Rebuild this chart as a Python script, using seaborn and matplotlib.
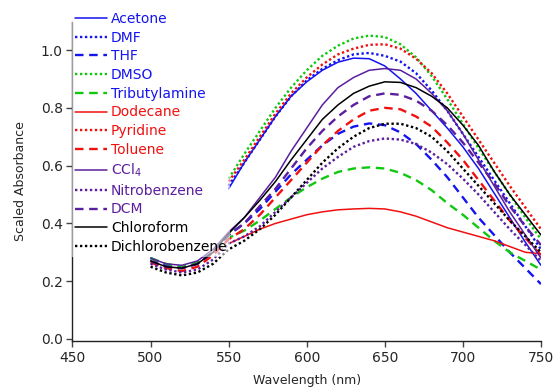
import matplotlib
matplotlib.use("Agg")
import matplotlib.pyplot as plt
import seaborn as sns

# ---- data ----
wl_full = [500, 510, 520, 530, 540, 550, 560, 570, 580, 590, 600, 610, 620,
           630, 640, 650, 660, 670, 680, 690, 700, 710, 720, 730, 740, 750]
wl_short = [550, 560, 570, 580, 590, 600, 610, 620, 630, 640, 650, 660, 670,
            680, 690, 700, 710, 720, 730, 740, 750]

acetone = [.52, .61, .69, .77, .84, .89, .93, .958, .972, .97, .945, .90, .85,
           .79, .73, .665, .59, .505, .42, .335, .255]
dmf = [.53, .61, .69, .77, .84, .895, .935, .965, .985, .99, .98, .96, .92,
       .86, .79, .71, .63, .55, .47, .39, .31]
thf = [.28, .255, .245, .26, .30, .36, .40, .45, .51, .57, .62, .67, .71,
       .735, .746, .74, .715, .675, .62, .56, .49, .42, .36, .30, .245, .19]
dmso = [.555, .64, .72, .80, .87, .93, .98, 1.015, 1.04, 1.05, 1.045, 1.02, .975,
        .91, .83, .745, .66, .58, .50, .42, .345]
tributylamine = [.28, .26, .25, .265, .30, .35, .375, .41, .45, .49, .525, .555, .578,
                 .59, .594, .59, .575, .55, .515, .47, .43, .385, .34, .30, .27, .24]
dodecane = [.33, .355, .38, .40, .415, .43, .44, .447, .45, .452, .45, .44, .425,
            .405, .385, .37, .355, .34, .32, .30, .295]
pyridine = [.545, .62, .70, .78, .85, .905, .95, .985, 1.005, 1.018, 1.02, 1.005, .97,
            .92, .85, .77, .69, .61, .53, .455, .38]
toluene = [.265, .245, .235, .25, .29, .345, .38, .43, .49, .55, .61, .67, .72,
           .76, .79, .80, .795, .77, .735, .68, .62, .55, .48, .41, .35, .29]
ccl4 = [.28, .26, .255, .27, .31, .37, .42, .49, .56, .65, .73, .81, .87,
        .905, .93, .936, .93, .90, .85, .79, .71, .62, .53, .44, .36, .28]
nitrobenzene = [.26, .24, .23, .24, .275, .33, .355, .39, .44, .49, .54, .59, .63,
                .665, .685, .694, .69, .675, .645, .605, .555, .50, .44, .38, .325, .27]
dcm = [.27, .25, .245, .26, .30, .36, .40, .46, .52, .59, .66, .72, .77,
       .81, .84, .85, .845, .825, .79, .74, .68, .61, .54, .46, .39, .325]
chloroform = [.27, .25, .245, .26, .30, .365, .42, .48, .545, .62, .69, .76, .81,
              .85, .875, .89, .888, .87, .84, .80, .74, .67, .58, .50, .43, .36]
dichlorobenzene = [.25, .23, .22, .23, .26, .31, .34, .38, .43, .49, .55, .61, .66,
                   .70, .73, .745, .745, .73, .70, .65, .59, .53, .47, .41, .355, .30]

labels = ["Acetone", "DMF", "THF", "DMSO", "Tributylamine", "Dodecane", "Pyridine",
          "Toluene", "CCl$_4$", "Nitrobenzene", "DCM", "Chloroform", "Dichlorobenzene"]

# ---- style ----
BLUE = "#1414f0"
GREEN = "#10c810"
RED = "#f01010"
PURPLE = "#5a1e9e"
BLACK = "#000000"
SOLID = "-"
DOT = (0, (1, 1.1))
DASH = (0, (3.6, 2.4))

series = [
    (wl_short, acetone, BLUE, SOLID, BLUE),
    (wl_short, dmf, BLUE, DOT, BLUE),
    (wl_full, thf, BLUE, DASH, BLUE),
    (wl_short, dmso, GREEN, DOT, BLUE),
    (wl_full, tributylamine, GREEN, DASH, BLUE),
    (wl_short, dodecane, RED, SOLID, RED),
    (wl_short, pyridine, RED, DOT, RED),
    (wl_full, toluene, RED, DASH, RED),
    (wl_full, ccl4, PURPLE, SOLID, PURPLE),
    (wl_full, nitrobenzene, PURPLE, DOT, PURPLE),
    (wl_full, dcm, PURPLE, DASH, PURPLE),
    (wl_full, chloroform, BLACK, SOLID, BLACK),
    (wl_full, dichlorobenzene, BLACK, DOT, BLACK),
]

sns.set_style("ticks")
plt.rcParams["font.family"] = ["DejaVu Sans"]

fig = plt.figure(figsize=(5.55, 3.89), dpi=100)
ax = fig.add_axes([0.1306, 0.1234, 0.8441, 0.82])

for (x, y, c, ls, tc), lab in zip(series, labels):
    lw = 1.1 if ls == SOLID else 1.7
    sns.lineplot(x=x, y=y, color=c, linestyle=ls, linewidth=lw, label=lab, ax=ax)

ax.set_xlim(450, 750)
ax.set_ylim(-0.007, 1.097)
ax.set_xticks([450, 500, 550, 600, 650, 700, 750])
ax.set_yticks([0.0, 0.2, 0.4, 0.6, 0.8, 1.0])
ax.set_yticklabels(["0.0", "0.2", "0.4", "0.6", "0.8", "1.0"])
for s in ["top", "right"]:
    ax.spines[s].set_visible(False)
for s in ["left", "bottom"]:
    ax.spines[s].set_color("#222222")
    ax.spines[s].set_linewidth(1.0)
ax.tick_params(axis="both", direction="out", length=4, width=1, color="#444444",
               labelsize=10, pad=3)
ax.set_xlabel("Wavelength (nm)", fontsize=9, labelpad=7)
ax.set_ylabel("Scaled Absorbance", fontsize=9, labelpad=10)

leg = ax.legend(loc="upper left", bbox_to_anchor=(72 / 555, 1 - 9 / 389),
                bbox_transform=fig.transFigure, fontsize=10, frameon=True,
                facecolor="white", edgecolor="none", framealpha=0.55,
                borderaxespad=0, borderpad=0.2, labelspacing=0.34,
                handlelength=2.3, handletextpad=0.3, fancybox=False)
for txt, s in zip(leg.get_texts(), series):
    txt.set_color(s[4])

fig.savefig("out.png", dpi=100)
